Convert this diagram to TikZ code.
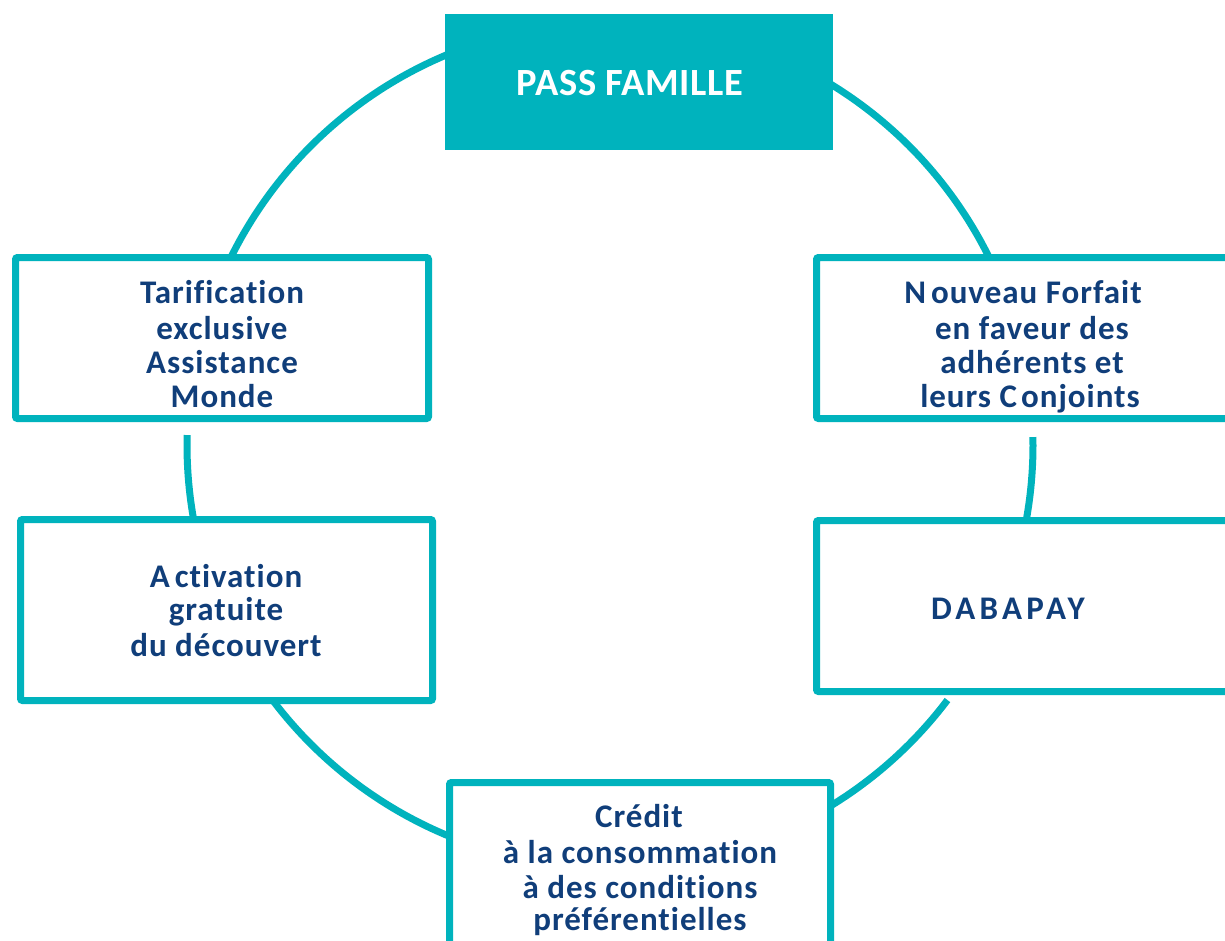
\documentclass[tikz,border=0pt]{standalone}
\usepackage{fontspec}
\setmainfont[Ligatures=NoCommon]{Carlito}
\newfontfamily\lab[LetterSpace=3,Ligatures=NoCommon]{Carlito}
\newfontfamily\headfont[LetterSpace=1.5,Ligatures=NoCommon]{Carlito}
\definecolor{teal1}{RGB}{0,179,189}
\definecolor{navy1}{RGB}{16,62,122}
\begin{document}
\begin{tikzpicture}[x=1pt,y=-1pt,
  ring/.style={draw=teal1, line width=7pt},
  card/.style={draw=teal1, line width=7pt, fill=white, rounded corners=2pt, inner sep=0pt},
  head/.style={fill=teal1, inner sep=0pt},
  txt/.style={text=navy1, font=\lab\bfseries\fontsize{33}{35}\selectfont, anchor=base, inner sep=0pt},
  wtxt/.style={text=navy1, font=\lab\bfseries\fontsize{33}{35}\selectfont\addfontfeature{LetterSpace=13}, anchor=base, inner sep=0pt},
  htxt/.style={text=white, font=\headfont\bfseries\fontsize{38.5}{40}\selectfont, anchor=base, inner sep=0pt}]
\clip (0,0) rectangle (1225,940);
\fill[white] (0,0) rectangle (1225,940);
% ring segments
\draw[ring] plot[domain=100:160, samples=80] ({610+423*cos(\x)},{445-423*sin(\x)});
\draw[ring] plot[domain=20:80, samples=80] ({610+423*cos(\x)},{445-423*sin(\x)});
\draw[ring] plot[domain=178.65:195, samples=40] ({610+423*cos(\x)},{445-423*sin(\x)});
\draw[ring] plot[domain=1.08:-15, samples=40] ({610+423*cos(\x)},{445-423*sin(\x)});
\draw[ring] plot[domain=215:250, samples=60] ({610+423*cos(\x)},{445-423*sin(\x)});
\draw[ring] plot[domain=-37.08:-65, samples=60] ({610+423*cos(\x)},{445-423*sin(\x)});
% boxes
\node[head, minimum width=388pt, minimum height=136pt] (pass) at (639,82) {};
\node[card, minimum width=413pt, minimum height=161pt] (tar) at (222,338) {};
\node[card, minimum width=433.5pt, minimum height=161pt] (nouv) at (1033.25,338) {};
\node[card, minimum width=412pt, minimum height=181pt] (act) at (226.5,610) {};
\node[card, minimum width=433.5pt, minimum height=171pt] (daba) at (1033.25,606) {};
\node[card, minimum width=381pt, minimum height=177.5pt] (cred) at (640,871.25) {};
% texts
\node[htxt] (passt) at (630,95) {PASS FAMILLE};
\node[txt] (tar1) at (222,303) {Tarification};
\node[txt] (tar2) at (222,339) {exclusive};
\node[txt] (tar3) at (222,373) {Assistance};
\node[txt] (tar4) at (222,407) {Monde};
\node[txt] (nouv1) at (1023,303) {N\kern5pt ouveau Forfait};
\node[txt] (nouv2) at (1032,339) {en faveur des};
\node[txt] (nouv3) at (1032,373) {adhérents et};
\node[txt] (nouv4) at (1030,407) {leurs C\kern4pt onjoints};
\node[txt] (act1) at (226,587) {A\kern5pt ctivation};
\node[txt] (act2) at (226,620) {gratuite};
\node[txt] (act3) at (226,656) {du découvert};
\node[wtxt] (dabat) at (1008,619) {DABAPAY};
\node[txt] (cred1) at (639,827) {Crédit};
\node[txt] (cred2) at (640,863) {à la consommation};
\node[txt] (cred3) at (640,898) {à des conditions};
\node[txt] (cred4) at (640,930) {préférentielles};
\end{tikzpicture}
\end{document}
